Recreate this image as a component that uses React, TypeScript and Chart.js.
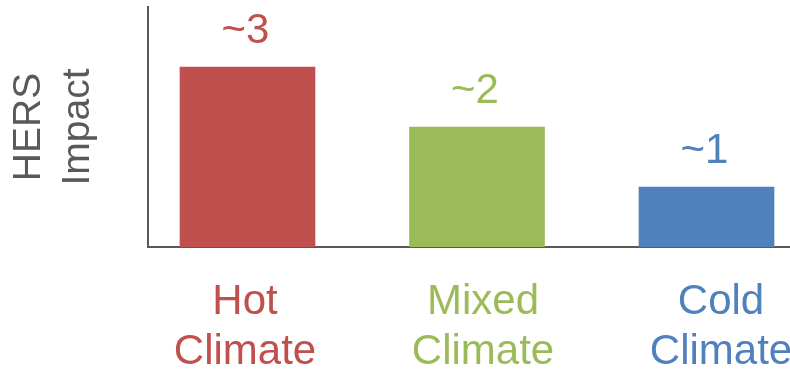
import React, { useEffect, useRef } from "react";
import { Chart, registerables } from "chart.js";

Chart.register(...registerables);

const categories: string[][] = [["Hot", "Climate"], ["Mixed", "Climate"], ["Cold", "Climate"]];
const values: number[] = [3, 2, 1];
const valueLabels: string[] = ["~3", "~2", "~1"];
const colors: string[] = ["#C0504D", "#9BBB59", "#4F81BD"];
const axisTitle: string[] = ["HERS", "Impact"];

const FONT = "'Liberation Sans', Arial, sans-serif";
const W = 850;
const H = 369;
const LEFT = 148;
const AREA_W = W - LEFT;
const BAR_STEP = 229.5;
const BAR_FIRST = 247.5;
const LABEL_STEP = 238;
const LABEL_FIRST = 245;

const valueLabelPlugin = {
  id: "valueLabels",
  afterDatasetsDraw(chart: any) {
    const ctx = chart.ctx;
    const meta = chart.getDatasetMeta(0);
    ctx.save();
    ctx.font = `42px ${FONT}`;
    ctx.textAlign = "center";
    ctx.textBaseline = "alphabetic";
    meta.data.forEach((bar: any, i: number) => {
      ctx.fillStyle = colors[i];
      ctx.fillText(valueLabels[i], bar.x - 2, bar.y - 24);
    });
    ctx.restore();
  },
};

export default function App() {
  const ref = useRef<HTMLCanvasElement>(null);
  useEffect(() => {
    if (!ref.current) return;
    const xMin = -(BAR_FIRST - LEFT) / BAR_STEP;
    const xMax = xMin + AREA_W / BAR_STEP;
    const x2Min = -(LABEL_FIRST - LEFT) / LABEL_STEP;
    const x2Max = x2Min + AREA_W / LABEL_STEP;
    const chart = new Chart(ref.current, {
      type: "bar",
      data: {
        datasets: [
          {
            data: values.map((v, i) => ({ x: i, y: v })) as any,
            backgroundColor: colors,
            barThickness: 135,
            borderWidth: 0,
          },
        ],
      },
      options: {
        responsive: false,
        animation: false,
        layout: { padding: { top: 7, left: 0, right: 0, bottom: 0 } },
        plugins: { legend: { display: false }, tooltip: { enabled: false } },
        scales: {
          x: {
            type: "linear",
            position: "bottom",
            offset: false,
            weight: 0,
            min: xMin,
            max: xMax,
            grid: { display: false, drawTicks: false },
            border: { display: true, color: "#595959", width: 2 },
            ticks: { display: false },
            afterFit: (s: any) => {
              s.height = 0;
            },
          },
          x2: {
            type: "linear",
            position: "bottom",
            offset: false,
            weight: 1,
            min: x2Min,
            max: x2Max,
            grid: { display: false, drawTicks: false },
            border: { display: false },
            afterBuildTicks: (s: any) => {
              s.ticks = categories.map((_, i) => ({ value: i }));
            },
            ticks: {
              autoSkip: false,
              maxRotation: 0,
              minRotation: 0,
              padding: 30,
              font: { family: FONT, size: 42, lineHeight: 1.2 },
              color: (c: any) => colors[c.index] || "#000",
              callback: (v: any) => categories[Math.round(Number(v))] || "",
            },
            afterFit: (s: any) => {
              s.height = H - 247;
            },
          },
          y: {
            min: 0,
            max: 4,
            grid: { display: false, drawTicks: false },
            border: { display: true, color: "#595959", width: 2 },
            ticks: { display: false },
            title: {
              display: true,
              text: axisTitle,
              color: "#595959",
              font: { family: FONT, size: 39, lineHeight: 1.25 },
              padding: { top: 5, bottom: 0 },
            },
            afterFit: (s: any) => {
              s.width = LEFT;
            },
          },
        },
      },
      plugins: [valueLabelPlugin],
    });
    return () => chart.destroy();
  }, []);
  return (
    <div style={{ position: "fixed", left: 0, top: 0, width: 790, height: 369, overflow: "hidden", background: "#fff" }}>
      <canvas ref={ref} width={W} height={H} style={{ display: "block" }} />
    </div>
  );
}
